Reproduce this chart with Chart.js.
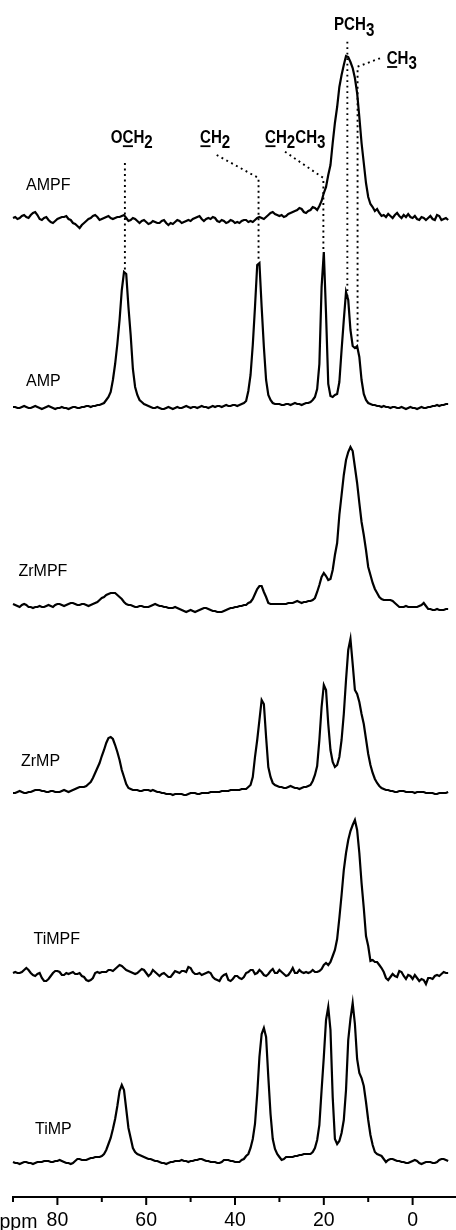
<!DOCTYPE html>
<html>
<head>
<meta charset="utf-8">
<script src="https://cdn.jsdelivr.net/npm/chart.js@4.4.1/dist/chart.umd.min.js"></script>
<style>
html,body{margin:0;padding:0;background:#fff;overflow:hidden;}
canvas{display:block;}
</style>
</head>
<body>
<canvas id="c" width="456" height="1230" style="width:456px;height:1230px"></canvas>
<script>
// ---- DATA ----
const ppm = [
90,89.5,89,88.5,88,87.5,87,86.5,86,85.5,
85,84.5,84,83.5,83,82.5,82,81.5,81,80.5,
80,79.5,79,78.5,78,77.5,77,76.5,76,75.5,
75,74.5,74,73.5,73,72.5,72,71.5,71,70.5,
70,69.5,69,68.5,68,67.5,67,66.5,66,65.5,
65,64.5,64,63.5,63,62.5,62,61.5,61,60.5,
60,59.5,59,58.5,58,57.5,57,56.5,56,55.5,
55,54.5,54,53.5,53,52.5,52,51.5,51,50.5,
50,49.5,49,48.5,48,47.5,47,46.5,46,45.5,
45,44.5,44,43.5,43,42.5,42,41.5,41,40.5,
40,39.5,39,38.5,38,37.5,37,36.5,36,35.5,
35,34.5,34,33.5,33,32.5,32,31.5,31,30.5,
30,29.5,29,28.5,28,27.5,27,26.5,26,25.5,
25,24.5,24,23.5,23,22.5,22,21.5,21,20.5,
20,19.5,19,18.5,18,17.5,17,16.5,16,15.5,
15,14.5,14,13.5,13,12.5,12,11.5,11,10.5,
10,9.5,9,8.5,8,7.5,7,6.5,6,5.5,
5,4.5,4,3.5,3,2.5,2,1.5,1,0.5,
0,-0.5,-1,-1.5,-2,-2.5,-3,-3.5,-4,-4.5,
-5,-5.5,-6,-6.5,-7,-7.5,-8
];

const sampleNames = ['AMPF','AMP','ZrMPF','ZrMP','TiMPF','TiMP'];

const AMPF = [
2,3,1,2,4,5,3,2,5,7,
8,5,1,0,2,3,0,-2,-3,-1,
1,2,3,3,4,1,0,-3,-4,-6,
-8,-5,-3,-1,1,2,4,5,3,0,
1,2,3,4,2,1,2,3,3,4,
5,2,-1,0,2,1,-1,-3,-1,0,
-2,-4,-3,-1,-2,-3,-3,-1,0,-3,
-5,-3,-4,-2,0,-1,-3,-2,-1,0,
-1,1,2,3,4,1,-1,1,2,1,
3,2,-1,-2,0,-1,-3,-2,0,-1,
-3,-2,-3,-1,0,0,-2,-1,-2,0,
2,3,2,1,3,5,7,8,6,5,
4,5,3,4,6,7,8,9,10,12,
11,8,7,9,10,13,12,10,14,19,
27,33,45,55,77,97,113,133,145,155,
164,163,158,152,142,127,103,77,57,37,
23,16,13,9,11,7,4,5,3,6,
4,2,5,7,4,2,5,3,6,3,
2,4,1,0,3,2,0,2,4,1,
0,5,4,0,1,2,0
];

const AMP = [
0,0,-1,-1,0,1,0,-1,-1,0,
1,0,-1,-2,-1,0,1,0,-1,-2,
-1,-1,0,-1,-1,-2,-1,0,0,-1,
-1,0,0,1,1,0,1,1,2,2,
3,4,7,10,15,27,43,63,87,117,
135,133,100,72,38,20,12,7,5,3,
2,1,0,-1,-1,0,-1,-2,-2,-1,
0,-1,-2,-1,0,-1,-1,0,1,0,
-1,0,0,-1,0,1,0,0,-1,0,
1,0,1,1,0,1,2,1,1,2,
2,1,2,3,4,6,16,32,62,100,
142,144,100,60,27,12,7,4,3,3,
3,2,2,3,3,2,3,4,3,3,
2,3,4,4,5,7,10,18,43,120,
155,93,23,11,10,12,13,25,57,87,
115,107,77,61,59,61,50,27,13,7,
4,3,2,2,1,1,0,1,0,0,
-1,0,0,-1,-1,0,-1,-2,-1,0,
-1,-1,-2,-1,0,-1,-1,0,0,1,
1,2,1,2,2,3,3
];

const ZrMPF = [
1,0,-1,-2,0,1,0,-2,-2,-3,
-2,-2,-1,-2,-2,-1,0,-1,-2,0,
1,1,0,-1,0,1,2,2,1,0,
0,1,1,0,-1,0,1,2,3,5,
7,8,10,11,12,12,12,10,8,6,
3,1,0,0,-1,-2,-2,-1,-1,-2,
-2,-2,-1,0,1,0,-1,-1,-2,-2,
-3,-3,-3,-2,-3,-4,-5,-6,-7,-6,
-5,-6,-7,-6,-5,-4,-3,-3,-4,-5,
-6,-6,-7,-7,-7,-6,-5,-4,-3,-3,
-2,-2,-1,-1,0,0,2,3,6,11,
16,19,19,13,8,2,1,1,1,1,
1,1,1,1,2,2,2,3,4,3,
2,3,3,4,4,5,7,13,20,28,
32,29,25,26,35,50,62,90,110,130,
145,153,158,154,138,122,102,83,70,55,
38,30,22,16,12,8,6,5,5,5,
5,4,2,0,-2,-2,-2,-1,-2,-2,
-2,-2,-2,-1,0,2,-1,-4,-4,-5,
-5,-4,-5,-5,-5,-4,-4
];

const ZrMP = [
-1,-1,0,1,0,-1,-1,0,0,1,
2,2,2,1,1,0,0,1,1,0,
0,0,1,2,1,0,1,2,3,4,
5,5,5,6,8,10,14,19,24,29,
36,42,49,54,55,53,47,40,32,22,
15,8,4,3,2,2,2,1,1,2,
2,2,1,2,1,0,0,-1,-1,-2,
-2,-2,-3,-2,-2,-2,-2,-3,-3,-2,
-1,-1,-1,-2,-2,-1,-1,-1,-1,0,
0,0,0,0,1,1,1,1,2,2,
2,2,2,3,3,3,5,7,15,35,
52,72,92,88,55,25,15,9,7,6,
5,5,4,4,5,6,5,4,4,3,
4,5,5,6,7,11,17,26,52,85,
107,102,68,42,30,25,27,35,52,78,
112,142,153,128,102,98,90,78,68,53,
38,27,19,13,9,6,4,3,2,2,
1,1,0,0,1,1,1,0,0,0,
0,-1,0,0,0,0,-1,-1,-1,-1,
-2,-2,-1,-1,-1,-1,0
];

const TiMPF = [
0,1,0,0,1,3,5,3,0,-2,
-3,-1,0,-5,-8,-8,-6,-3,0,2,
2,1,-2,-2,0,-1,0,1,-1,-1,
0,-3,-4,-7,-8,-7,-5,0,1,0,
1,1,1,3,3,2,4,6,8,7,
5,3,2,1,0,-1,0,2,4,3,
0,-3,-1,3,1,-1,-3,-1,0,-2,
-4,-4,-1,2,1,0,2,2,1,6,
5,1,-1,-1,0,-2,-1,0,1,0,
-4,-6,-7,-8,-4,-2,-1,-7,-8,-6,
-3,-3,-5,-6,-4,0,1,3,3,-1,
0,3,1,-2,-3,-1,2,4,0,0,
3,1,-1,-3,-2,1,5,0,0,3,
1,0,1,0,1,3,1,1,2,4,
8,10,8,11,17,23,34,55,78,103,
120,133,142,148,153,143,120,90,65,37,
27,12,13,11,11,8,5,1,-5,-7,
-4,-1,-3,-4,2,1,-3,-6,-2,-3,
-6,-2,-5,-8,-6,-7,-11,-5,-5,-6,
-3,-2,-3,-1,1,0,0
];

const TiMP = [
0,-1,-1,-2,-1,0,0,-1,-1,-2,
-1,0,0,0,1,1,1,0,0,1,
1,2,1,0,-1,-1,-2,-1,1,3,
3,2,2,2,3,4,4,5,5,5,
6,8,12,18,24,33,43,56,71,77,
72,53,34,24,14,10,8,7,6,5,
4,3,3,2,1,1,0,-1,-1,-2,
-1,0,0,1,1,1,2,1,1,0,
1,1,2,2,3,3,2,1,1,0,
0,0,-1,-1,0,2,2,2,1,1,
0,0,0,2,3,6,8,14,23,38,
68,105,128,134,125,85,48,23,13,8,
5,2,3,5,5,5,5,6,6,7,
7,8,8,8,8,10,14,22,37,72,
105,142,155,132,65,23,18,21,29,42,
72,122,143,159,138,103,89,84,76,60,
42,27,17,10,8,7,6,3,0,2,
3,3,2,1,1,0,0,-1,-1,0,
1,2,1,-1,-2,-1,0,0,0,-1,
-1,0,2,3,3,2,1
];

const tickValues = [90, 80, 70, 60, 50, 40, 30, 20, 10, 0];
const tickLabels = [80, 60, 40, 20, 0];
const axisTitle = 'ppm';

// peak assignments (names, position in ppm, index of underlined char, -1 = none)
const assignNames = ['OCH2', 'CH2', 'CH2CH3', 'PCH3', 'CH3'];
const assignPpm = [64.8, 34.7, 20.1, 14.7, 12.4];
const assignUnderline = [1, 0, 0, -1, 0];

// ---- LAYOUT (pixels) ----
const AXIS_Y = 1197;
const baselinePx = [220, 407, 605, 792, 973, 1162];
const sampleLabelPos = [[26,189.5],[26,385.5],[18.5,575.5],[21,765.5],[33.5,943.5],[35,1134]];
const assignLabelPos = [[110.7,142.7],[200,142.7],[265,142.7],[334,30],[386.7,63.5]];
// leader: start point (px) and y where it turns vertical (null: purely vertical)
const leaderStart = [[null,163,null],[216.7,155,178],[285,151.7,178],[null,41.7,null],[380,58.3,66.7]];

const series = [AMPF, AMP, ZrMPF, ZrMP, TiMPF, TiMP];
series.forEach((s, k) => { if (s.length !== ppm.length) console.error(sampleNames[k] + ' length ' + s.length); });

const datasets = series.map((s, k) => ({
  label: sampleNames[k],
  data: s.map((v, i) => ({ x: ppm[i], y: AXIS_Y - baselinePx[k] + v })),
  borderColor: '#000',
  borderWidth: 2.2,
  pointRadius: 0,
  tension: 0,
  fill: false,
  clip: false
}));

const FONT = '"Liberation Sans", Arial, Helvetica, sans-serif';

function drawRich(ctx, name, ul, x, y) {
  ctx.save();
  ctx.translate(x, y);
  ctx.scale(0.84, 1);
  ctx.font = 'bold 18px ' + FONT;
  ctx.textBaseline = 'alphabetic';
  ctx.textAlign = 'left';
  ctx.fillStyle = '#000';
  let cx = 0;
  for (let k = 0; k < name.length; k++) {
    const ch = name[k];
    const sub = /\d/.test(ch);
    const w = ctx.measureText(ch).width;
    ctx.fillText(ch, cx, sub ? 5.5 : 0);
    if (k === ul) ctx.fillRect(cx + 0.5, 2.6, w - 1, 1.8);
    cx += w;
  }
  ctx.restore();
}

const annotate = {
  id: 'annotate',
  afterDatasetsDraw(chart) {
    const ctx = chart.ctx;
    const xs = chart.scales.x, ys = chart.scales.y;
    ctx.save();
    ctx.strokeStyle = '#000';
    ctx.lineWidth = 1.9;
    ctx.setLineDash([1.9, 3.6]);
    assignPpm.forEach((p, k) => {
      const lx = xs.getPixelForValue(p);
      let idx = 0, best = 1e9;
      ppm.forEach((q, i) => { const d = Math.abs(q - p); if (d < best) { best = d; idx = i; } });
      const bottom = ys.getPixelForValue(AXIS_Y - baselinePx[1] + AMP[idx]) - 2;
      const [sx, sy, knee] = leaderStart[k];
      ctx.beginPath();
      if (sx === null) {
        ctx.moveTo(lx, sy);
      } else {
        ctx.moveTo(sx, sy);
        ctx.lineTo(lx, knee);
      }
      ctx.lineTo(lx, bottom);
      ctx.stroke();
    });
    ctx.restore();
    assignNames.forEach((n, k) => drawRich(ctx, n, assignUnderline[k], assignLabelPos[k][0], assignLabelPos[k][1]));
    ctx.save();
    ctx.fillStyle = '#000';
    ctx.font = '16px ' + FONT;
    ctx.textBaseline = 'alphabetic';
    sampleNames.forEach((n, k) => ctx.fillText(n, sampleLabelPos[k][0], sampleLabelPos[k][1]));
    ctx.restore();
  },
  afterDraw(chart) {
    const ctx = chart.ctx;
    const xs = chart.scales.x;
    ctx.save();
    ctx.strokeStyle = '#000';
    ctx.lineWidth = 2;
    xs.ticks.forEach(t => {
      const px = xs.getPixelForValue(t.value);
      const major = tickLabels.includes(t.value);
      ctx.beginPath();
      ctx.moveTo(px, AXIS_Y);
      ctx.lineTo(px, AXIS_Y + (major ? 8 : 5));
      ctx.stroke();
    });
    ctx.fillStyle = '#000';
    ctx.font = '19.5px ' + FONT;
    ctx.textBaseline = 'alphabetic';
    ctx.fillText(axisTitle, -0.5, 1227.5);
    ctx.restore();
  }
};

new Chart(document.getElementById('c'), {
  type: 'line',
  data: { datasets },
  options: {
    responsive: false,
    animation: false,
    devicePixelRatio: 1,
    layout: { padding: { left: 13, right: 0, top: 0, bottom: 0 } },
    plugins: { legend: { display: false }, tooltip: { enabled: false } },
    scales: {
      x: {
        type: 'linear',
        reverse: true,
        bounds: 'data',
        min: -9.77,
        max: 90,
        afterBuildTicks: (s) => { s.ticks = tickValues.map(v => ({ value: v })); },
        afterFit: (s) => { s.height = 33; s.paddingLeft = 0; s.paddingRight = 0; },
        border: { display: true, color: '#000', width: 2 },
        grid: { display: false, drawTicks: false },
        ticks: {
          autoSkip: false,
          maxRotation: 0,
          padding: 12,
          color: '#000',
          font: { family: FONT, size: 19.5 },
          callback: (v) => tickLabels.includes(v) ? String(v) : ''
        }
      },
      y: { display: false, min: 0, max: AXIS_Y }
    }
  },
  plugins: [annotate]
});
</script>
</body>
</html>
